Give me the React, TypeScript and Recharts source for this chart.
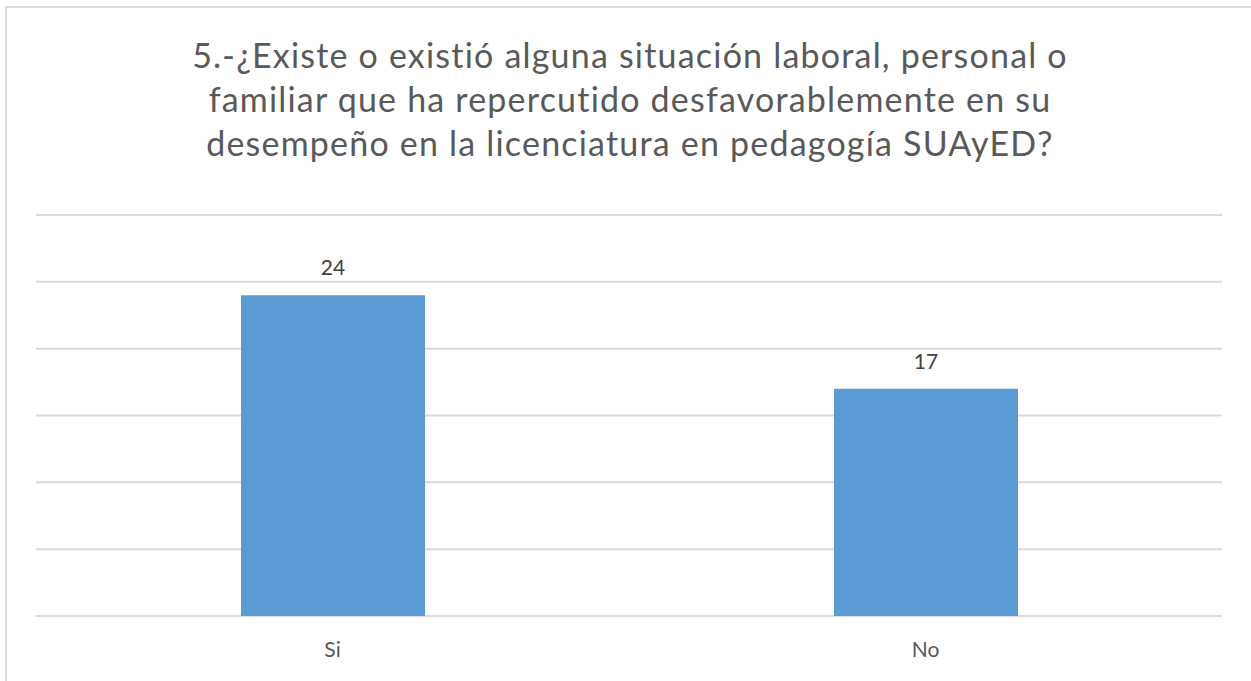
import React from 'react';
import { BarChart, Bar, XAxis, YAxis, CartesianGrid, LabelList } from 'recharts';

const categories = ['Si', 'No'];
const values = [24, 17];
const yTicks = [0, 5, 10, 15, 20, 25, 30];
const titleLines = [
  '5.-¿Existe o existió alguna situación laboral, personal o',
  'familiar que ha repercutido desfavorablemente en su',
  'desempeño en la licenciatura en pedagogía SUAyED?',
];

const data = categories.map((c, i) => ({ name: c, value: values[i] }));

export default function App() {
  return (
    <div style={{ position: 'fixed', left: 0, top: 0, width: 1251, height: 681, background: '#fff', overflow: 'hidden' }}>
      <div
        style={{
          position: 'absolute',
          left: 5,
          top: 6,
          width: 1260,
          height: 700,
          borderTop: '2px solid #d9d9d9',
          borderLeft: '2px solid #d9d9d9',
        }}
      />
      <div
        style={{
          position: 'absolute',
          left: 0,
          top: 33,
          width: 1260,
          textAlign: 'center',
          fontFamily: 'Lato, sans-serif',
          fontSize: 34,
          letterSpacing: '1.2px',
          lineHeight: '44px',
          color: '#595959',
        }}
      >
        {titleLines.map((l, i) => (
          <div key={i}>{l}</div>
        ))}
      </div>
      <div style={{ position: 'absolute', left: 0, top: 0 }}>
        <BarChart
          width={1251}
          height={681}
          data={data}
          margin={{ top: 215, right: 29, bottom: 0, left: 36 }}
        >
          <CartesianGrid horizontal vertical={false} stroke="#d9d9d9" strokeWidth={2} />
          <XAxis
            dataKey="name"
            height={65}
            axisLine={false}
            tickLine={false}
            tick={{ fill: '#595959', fontSize: 21, fontFamily: 'Lato, sans-serif' }}
            tickMargin={20}
          />
          <YAxis hide domain={[0, 30]} ticks={yTicks} />
          <Bar dataKey="value" fill="#5b9bd5" barSize={184} isAnimationActive={false}>
            <LabelList
              dataKey="value"
              position="top"
              offset={20}
              style={{ fill: '#404040', fontSize: 21, fontFamily: 'Lato, sans-serif' }}
            />
          </Bar>
        </BarChart>
      </div>
    </div>
  );
}
